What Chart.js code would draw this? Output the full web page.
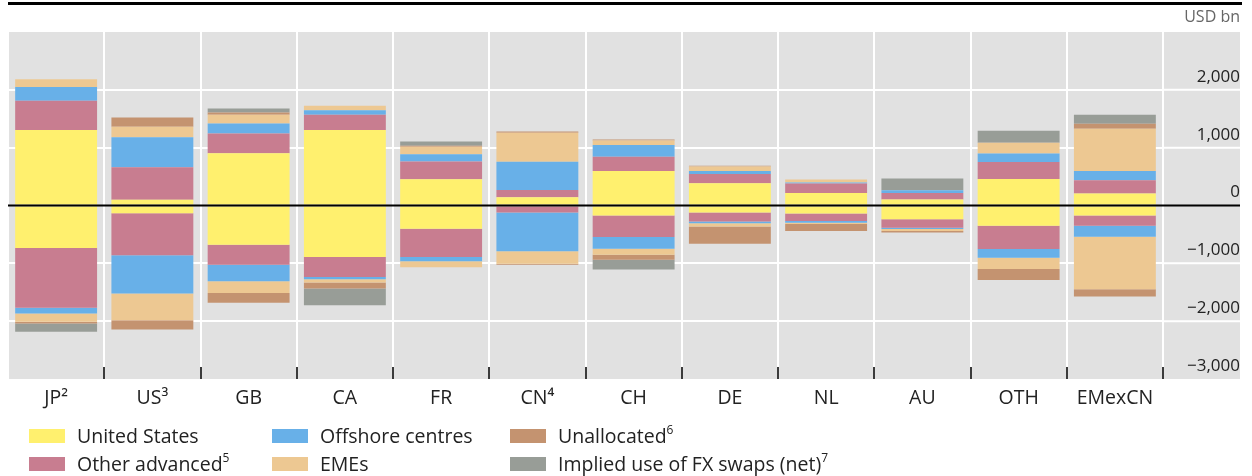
<!DOCTYPE html>
<html>
<head>
<meta charset="utf-8">
<script src="https://cdn.jsdelivr.net/npm/chart.js@4.4.1/dist/chart.umd.min.js"></script>
<style>
  body { margin: 0; background: #fff; font-family: "Open Sans", sans-serif; }
  #wrap { position: relative; width: 1252px; height: 476px; }
  #chart { position: absolute; left: 0; top: 0; }
  .item { position: absolute; display: flex; align-items: center; height: 14px; line-height: 14px;
          font-size: 19.5px; color: #222; white-space: nowrap; }
  .sw { width: 36px; height: 14px; margin-right: 12px; flex: none; }
  sup { font-size: 12px; vertical-align: 9px; line-height: 0; }
</style>
</head>
<body>
<div id="wrap">
  <canvas id="chart" width="1252" height="476"></canvas>
  <div id="legend"></div>
</div>
<script>
// Categorias (paises)
const categories = ['JP²', 'US³', 'GB', 'CA', 'FR', 'CN⁴', 'CH', 'DE', 'NL', 'AU', 'OTH', 'EMexCN'];

// Series: parte positiva y negativa, USD bn
const unitedStatesPos   = [1305,   98,  902, 1305,  454,  144,  598,  385,  218,  103,  460,  207];
const unitedStatesNeg   = [-736, -132, -678, -891, -402,    0, -172, -121, -138, -236, -351, -172];
const otherAdvancedPos  = [ 505,  563,  345,  264,  305,  126,  247,  161,  161,  115,  293,  230];
const otherAdvancedNeg  = [-1034, -730, -345, -345, -488, -121, -374, -155, -132, -149, -402, -178];
const offshorePos       = [ 241,  517,  172,   80,  126,  488,  201,   52,   17,   46,  144,  161];
const offshoreNeg       = [ -98, -661, -287,  -40,  -75, -672, -201,  -29,  -29,  -23, -149, -190];
const emesPos           = [ 133,  184,  149,   75,  132,  500,   80,   75,   52,    0,  190,  730];
const emesNeg           = [-144, -460, -201,  -57, -103, -213, -103,  -57,  -23,  -34, -195, -908];
const unallocatedPos    = [   0,  161,   40,    0,   15,   20,   15,   15,    0,    0,    0,   86];
const unallocatedNeg    = [ -29, -161, -172, -103,    0,  -17,  -86, -299, -121,  -23, -190, -126];
const fxSwapsPos        = [   0,    0,   69,    0,   75,    0,    0,    0,    0,  201,  207,  155];
const fxSwapsNeg        = [-144,    0,    0, -287,    0,    0, -172,    0,    0,    0,    0,    0];

const yTicks = [-3000, -2000, -1000, 0, 1000, 2000, 3000];

const seriesNames = ['United States', 'Other advanced', 'Offshore centres', 'EMEs', 'Unallocated', 'Implied use of FX swaps (net)'];
const seriesNotes = ['', '5', '', '', '6', '7'];
const seriesColors = ['#FFF06E', '#C87D90', '#68B0E8', '#EDC892', '#C49370', '#989D97'];
const seriesPos = [unitedStatesPos, otherAdvancedPos, offshorePos, emesPos, unallocatedPos, fxSwapsPos];
const seriesNeg = [unitedStatesNeg, otherAdvancedNeg, offshoreNeg, emesNeg, unallocatedNeg, fxSwapsNeg];

const FONT = '"Open Sans", sans-serif';
const PLOT_RIGHT_EDGE = 1240;

// Ancho de la etiqueta mas larga, para alinear a la derecha
function fmtTick(v) {
    const s = Math.abs(v).toLocaleString('en-US');
    return v < 0 ? '\u2212' + s : s;
}
const mctx = document.createElement('canvas').getContext('2d');
mctx.font = '17px ' + FONT;
const widest = Math.max(...yTicks.filter(v => v !== 3000).map(v => mctx.measureText(fmtTick(v)).width));

const datasets = [];
seriesNames.forEach((name, i) => {
    datasets.push({ label: name, data: seriesPos[i], backgroundColor: seriesColors[i], stack: 'all' });
    datasets.push({ label: name, data: seriesNeg[i], backgroundColor: seriesColors[i], stack: 'all' });
});

// Fondo gris, linea superior, extension de la rejilla, marcas del eje x y linea del cero
const decor = {
    id: 'decor',
    beforeDraw(chart) {
        const { ctx, chartArea } = chart;
        ctx.save();
        ctx.fillStyle = '#E1E1E1';
        ctx.fillRect(chartArea.left, chartArea.top, PLOT_RIGHT_EDGE - chartArea.left, chartArea.bottom - chartArea.top);
        ctx.fillStyle = '#000';
        ctx.fillRect(8, 2, 1234, 3);
        ctx.restore();
    },
    beforeDatasetsDraw(chart) {
        const { ctx, chartArea, scales } = chart;
        ctx.save();
        ctx.strokeStyle = '#fff';
        ctx.lineWidth = 2;
        yTicks.filter(v => v !== 0 && Math.abs(v) !== 3000).forEach(v => {
            const y = scales.y.getPixelForValue(v);
            ctx.beginPath();
            ctx.moveTo(chartArea.right, y);
            ctx.lineTo(PLOT_RIGHT_EDGE, y);
            ctx.stroke();
        });
        ctx.restore();
    },
    afterDraw(chart) {
        const { ctx, chartArea, scales } = chart;
        ctx.save();
        // linea del cero
        const y0 = scales.y.getPixelForValue(0);
        ctx.strokeStyle = '#000';
        ctx.lineWidth = 2;
        ctx.beginPath();
        ctx.moveTo(chartArea.left, y0);
        ctx.lineTo(PLOT_RIGHT_EDGE, y0);
        ctx.stroke();
        // marcas cortas entre categorias, hacia arriba desde el borde inferior
        const step = (chartArea.right - chartArea.left) / categories.length;
        ctx.fillStyle = '#3a3a3a';
        for (let i = 1; i <= categories.length; i++) {
            const x = Math.round(chartArea.left + step * i);
            ctx.fillRect(x - 1, chartArea.bottom - 12, 2, 12);
        }
        ctx.restore();
    }
};

new Chart(document.getElementById('chart'), {
    type: 'bar',
    data: { labels: categories, datasets: datasets },
    options: {
        responsive: false,
        animation: false,
        categoryPercentage: 1,
        barPercentage: 0.851,
        layout: { padding: { left: 8, right: 12, top: 8, bottom: 66 } },
        plugins: {
            legend: { display: false },
            tooltip: { enabled: false },
            title: {
                display: true,
                text: 'USD bn',
                align: 'end',
                color: '#666',
                font: { family: FONT, size: 16, weight: 'normal' },
                padding: { top: 0, bottom: 4.8 }
            }
        },
        scales: {
            x: {
                stacked: true,
                border: { display: false },
                grid: {
                    color: '#fff',
                    lineWidth: 2,
                    offset: true,
                    drawTicks: false
                },
                ticks: {
                    color: '#222',
                    padding: 7.5,
                    font: { family: FONT, size: 19.5 }
                },
                afterFit(scale) { scale.height = 31; }
            },
            y: {
                stacked: true,
                position: 'right',
                min: -3000,
                max: 3000,
                border: { display: false },
                grid: {
                    drawTicks: false,
                    lineWidth: 2,
                    color: ctx => (ctx.tick && (ctx.tick.value === 0 || Math.abs(ctx.tick.value) === 3000)) ? 'rgba(0,0,0,0)' : '#fff'
                },
                afterBuildTicks(scale) { scale.ticks = yTicks.map(v => ({ value: v })); },
                afterFit(scale) { scale.width = PLOT_RIGHT_EDGE - 1163; },
                ticks: {
                    color: '#222',
                    crossAlign: 'far',
                    padding: (PLOT_RIGHT_EDGE - 1163) - 3 - widest,
                    labelOffset: -13,
                    font: { family: FONT, size: 17 },
                    callback: v => v === 3000 ? '' : fmtTick(v)
                }
            }
        }
    },
    plugins: [decor]
});

// Leyenda en tres columnas
const legendCols = [29, 272, 510];
const legendRows = [429, 457];
const legendEl = document.getElementById('legend');
seriesNames.forEach((name, i) => {
    const item = document.createElement('div');
    item.className = 'item';
    item.style.left = legendCols[Math.floor(i / 2)] + 'px';
    item.style.top = legendRows[i % 2] + 'px';
    item.innerHTML = `<span class="sw" style="background:${seriesColors[i]}"></span><span>${name}${seriesNotes[i] ? '<sup>' + seriesNotes[i] + '</sup>' : ''}</span>`;
    legendEl.appendChild(item);
});
</script>
</body>
</html>
